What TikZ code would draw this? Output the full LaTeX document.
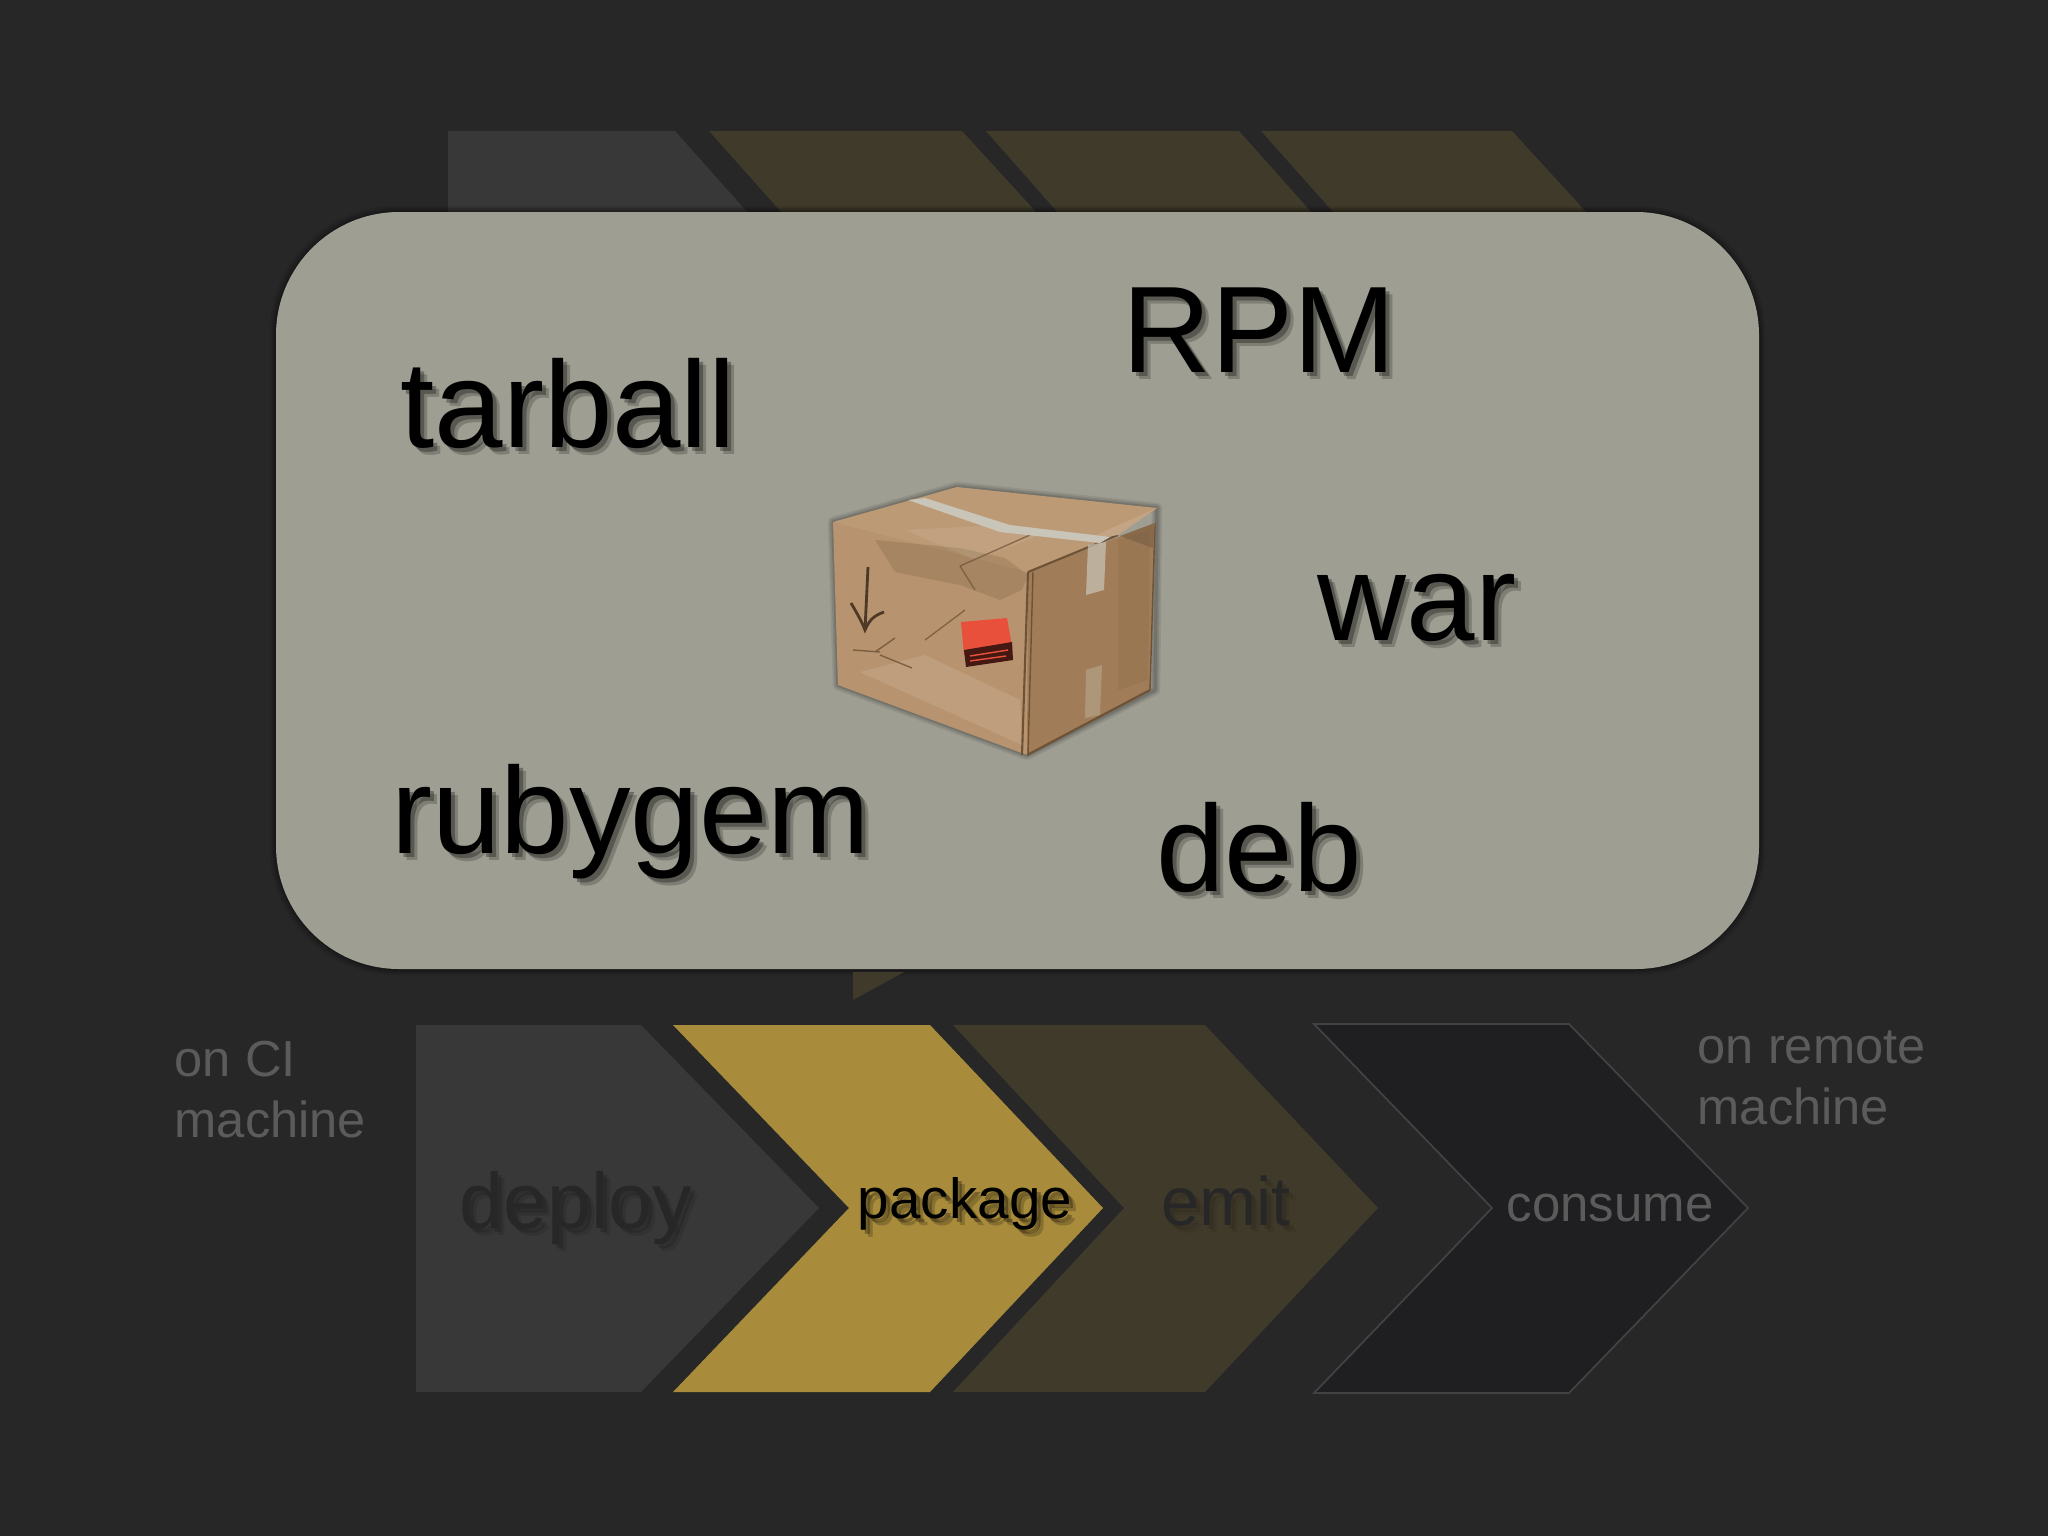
\documentclass[tikz,border=0pt]{standalone}
\usepackage{fontspec}
\setmainfont{Liberation Sans}
\definecolor{slidebg}{HTML}{272727}
\definecolor{panelgrey}{HTML}{9E9E93}
\definecolor{deployfill}{HTML}{383838}
\definecolor{packagefill}{HTML}{A88C3C}
\definecolor{emitfill}{HTML}{403A2A}
\definecolor{consumefill}{HTML}{1F1E20}
\definecolor{consumeline}{HTML}{424245}
\definecolor{sidegrey}{HTML}{5B5B5B}
\definecolor{boxtop}{HTML}{BC9A76}
\definecolor{boxleft}{HTML}{B7946F}
\definecolor{boxright}{HTML}{A07D58}
\definecolor{boxdark}{HTML}{6E5236}
\definecolor{tapegrey}{HTML}{C9C5B8}
\definecolor{labelred}{HTML}{E8503C}
\tikzset{
  wordnode/.style={anchor=base,inner sep=0pt},
  sidenode/.style={anchor=base west,inner sep=0pt,font=\fontsize{14.4}{16}\selectfont,text=sidegrey}
}
% text with a soft drop shadow
\newcommand{\shadowword}[7]{%
  \foreach \off/\op in {4/.3,7/.2} {
    \node[wordnode,font=\fontsize{#4}{#4}\selectfont,text=black,opacity=\op*#7] at (#2+\off,#3+\off) {#6};
  }
  \node[wordnode,font=\fontsize{#4}{#4}\selectfont,text=#5] (#1) at (#2,#3) {#6};
}
\begin{document}
\begin{tikzpicture}[x=0.01cm,y=-0.01cm]
\useasboundingbox (0,0) rectangle (2048,1536);
\fill[slidebg] (0,0) rectangle (2048,1536);

% Top row, mostly behind the panel
\fill[deployfill] (448,131) -- (675,131) -- (749,214) -- (448,214) -- cycle;
\foreach \xa/\xb/\xc/\xd in {709/962/1038/783,986/1239/1313/1059,1261/1512/1588/1335} {
  \fill[emitfill] (\xa,131) -- (\xb,131) -- (\xc,214) -- (\xd,214) -- cycle;
}

% Panel
\foreach \grow/\op in {6/.10,4/.14,2/.18} {
  \fill[black,opacity=\op,rounded corners=36pt] (276-\grow,212-\grow) rectangle (1759+\grow,969+\grow);
}
\fill[panelgrey,rounded corners=35pt] (276,212) rectangle (1759,969);

% Corner showing under the panel
\fill[emitfill] (853,972) -- (904,972) -- (853,1000) -- cycle;

% Box
\foreach \lw/\op in {3/.07,2/.09,1/.12} {
  \draw[black,opacity=\op,line join=round,line width=\lw pt] (833,522) -- (957,487) -- (1157,508) -- (1155,690) -- (1027,755) -- (838,685) -- cycle;
}
\fill[boxleft] (833,522) -- (1028,572) -- (1027,755) -- (838,685) -- cycle;
\fill[boxright] (1028,572) -- (1155,523) -- (1150,690) -- (1027,755) -- cycle;
\fill[boxtop] (833,522) -- (957,487) -- (1157,508) -- (1118,535) -- (1028,572) -- cycle;
% folds
\fill[boxdark,opacity=.22] (875,540) -- (960,548) -- (1005,558) -- (1028,575) -- (1022,590) -- (1000,600) -- (960,585) -- (895,572) -- cycle;
\fill[white,opacity=.10] (860,672) -- (925,655) -- (1020,700) -- (1022,745) -- cycle;
\fill[white,opacity=.08] (905,530) -- (1000,525) -- (1040,535) -- (975,560) -- cycle;
\draw[boxdark,line width=.4pt,opacity=.7] (960,566) -- (1030,535) (960,566) -- (975,590) (925,640) -- (965,610);
\draw[boxdark,line width=.6pt] (1028,572) -- (1022,755);
\draw[boxdark,line width=.4pt] (1033,572) -- (1028,755);
\draw[boxdark,line width=.6pt] (1027,755) -- (1150,690) (1028,572) -- (1118,535);
\draw[boxdark,line width=.4pt] (1155,523) -- (1150,690);
\fill[boxright!85!black] (1120,536) -- (1155,523) -- (1153,548) -- cycle;
\fill[boxtop!90!white] (1085,540) -- (1157,508) -- (1118,535) -- cycle;
\fill[boxdark,opacity=.12] (1118,540) -- (1150,530) -- (1148,680) -- (1118,690) -- cycle;
% tape
\fill[tapegrey] (908,500) -- (925,498) -- (1010,525) -- (1110,537) -- (1100,543) -- (1000,532) -- cycle;
\fill[tapegrey,opacity=.7] (1088,545) -- (1106,542) -- (1104,590) -- (1086,595) -- cycle;
\fill[tapegrey,opacity=.35] (1086,670) -- (1102,665) -- (1100,715) -- (1085,718) -- cycle;
% marker arrow
\draw[boxdark!70!black,line width=.8pt] (868,567) -- (865,630);
\draw[boxdark!70!black,line width=.8pt] (851,603) .. controls (858,615) and (862,622) .. (865,630) .. controls (870,618) and (876,615) .. (884,612);
\draw[boxdark,line width=.4pt,opacity=.8] (875,652) -- (895,638) (853,650) -- (880,652) (880,655) -- (912,668);
% red label
\fill[labelred] (961,622) -- (1007,618) -- (1012,646) -- (964,655) -- cycle;
\fill[black!70!labelred] (964,650) -- (1012,642) -- (1013,660) -- (966,667) -- cycle;
\draw[labelred,line width=.4pt] (970,656) -- (1008,650) (970,661) -- (1006,656);

% Words on the panel
\shadowword{tarball}{568}{447}{35}{black}{tarball}{1}
\shadowword{rpm}{1259}{372}{35}{black}{RPM}{1}
\shadowword{war}{1417}{640}{35}{black}{war}{1}
\shadowword{rubygem}{631}{853}{35}{black}{rubygem}{1}
\shadowword{deb}{1259}{891}{35}{black}{deb}{1}

% Bottom row
\fill[deployfill] (416,1025) -- (641,1025) -- (819,1208) -- (641,1392) -- (416,1392) -- cycle;
\fill[packagefill] (673,1025) -- (930,1025) -- (1103,1208) -- (930,1392) -- (673,1392) -- (849,1208) -- cycle;
\fill[emitfill] (953,1025) -- (1205,1025) -- (1378,1208) -- (1205,1392) -- (953,1392) -- (1124,1208) -- cycle;
\draw[consumeline,fill=consumefill,line width=.5pt] (1314,1024) -- (1569,1024) -- (1748,1208) -- (1569,1393) -- (1314,1393) -- (1492,1208) -- cycle;

\shadowword{deploy}{576}{1228}{22.4}{slidebg}{deploy}{.5}
\shadowword{package}{965}{1218}{16.1}{black}{package}{1}
\shadowword{emit}{1226}{1225}{19.5}{slidebg}{emit}{.3}
\node[wordnode,font=\fontsize{14.5}{16}\selectfont,text=sidegrey] (consume) at (1610,1221) {consume};

% Side notes
\node[sidenode] (onci) at (174,1076) {on CI};
\node[sidenode] (cimachine) at (174,1137) {machine};
\node[sidenode] (onremote) at (1697,1063) {on remote};
\node[sidenode] (remotemachine) at (1697,1124) {machine};
\end{tikzpicture}
\end{document}
